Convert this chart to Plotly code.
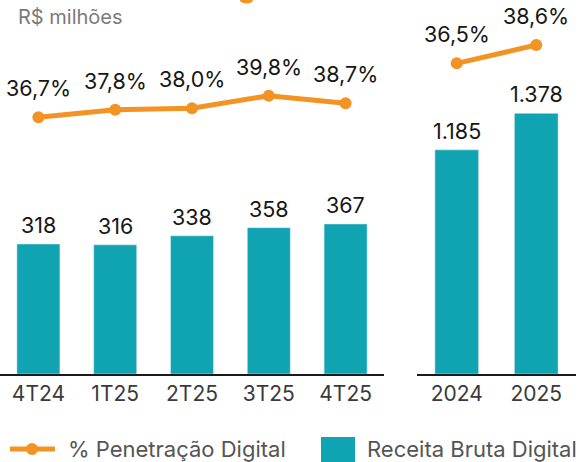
import plotly.graph_objects as go

# ---- data ----
quarters = ["4T24", "1T25", "2T25", "3T25", "4T25"]
quarter_revenue = [318, 316, 338, 358, 367]
quarter_penetration = [36.7, 37.8, 38.0, 39.8, 38.7]

years = ["2024", "2025"]
year_revenue = [1185, 1378]
year_penetration = [36.5, 38.6]

unit_label = "R$ milhões"
line_name = "% Penetração Digital"
bar_name = "Receita Bruta Digital"

ORANGE = "#F39324"
TEAL = "#10A4B2"
FONT = "Inter, Lato, sans-serif"
W, H = 584, 462


def fmt_pct(v):
    return f"{v:.1f}".replace(".", ",") + "%"


def fmt_int(v):
    return f"{v:,}".replace(",", ".")


fig = go.Figure()

fig.add_trace(go.Bar(x=quarters, y=quarter_revenue, marker_color=TEAL, width=0.56,
                     xaxis="x", yaxis="y", showlegend=False, hoverinfo="skip"))
fig.add_trace(go.Scatter(x=quarters, y=quarter_penetration, mode="lines+markers",
                         line=dict(color=ORANGE, width=5), marker=dict(size=12, color=ORANGE),
                         xaxis="x", yaxis="y2", showlegend=False, hoverinfo="skip"))
fig.add_trace(go.Bar(x=years, y=year_revenue, marker_color=TEAL, width=0.55,
                     xaxis="x2", yaxis="y3", showlegend=False, hoverinfo="skip"))
fig.add_trace(go.Scatter(x=years, y=year_penetration, mode="lines+markers",
                         line=dict(color=ORANGE, width=5), marker=dict(size=12, color=ORANGE),
                         xaxis="x2", yaxis="y4", showlegend=False, hoverinfo="skip"))

annotations = []
label_font = dict(family=FONT, size=21.5, color="#161616")
for i, v in enumerate(quarter_revenue):
    annotations.append(dict(x=i, y=v, xref="x", yref="y", text=fmt_int(v), showarrow=False,
                            yanchor="middle", yshift=19, font=label_font))
for i, v in enumerate(quarter_penetration):
    annotations.append(dict(x=i, y=v, xref="x", yref="y2", text=fmt_pct(v), showarrow=False,
                            yanchor="middle", yshift=29, font=label_font))
for i, v in enumerate(year_revenue):
    annotations.append(dict(x=i, y=v, xref="x2", yref="y3", text=fmt_int(v), showarrow=False,
                            yanchor="middle", yshift=19, font=label_font))
for i, v in enumerate(year_penetration):
    annotations.append(dict(x=i, y=v, xref="x2", yref="y4", text=fmt_pct(v), showarrow=False,
                            yanchor="middle", yshift=29, font=label_font))

# unit label
annotations.append(dict(x=16 / W, y=1 - 17 / H, xref="paper", yref="paper", text=unit_label,
                        showarrow=False, xanchor="left", yanchor="middle",
                        font=dict(family=FONT, size=20, color="#7a7a7a")))

# manual legend
leg_y = 1 - 449 / H
legend_font = dict(family=FONT, size=22, color="#555555")
annotations.append(dict(x=66 / W, y=leg_y, xref="paper", yref="paper", text=line_name,
                        showarrow=False, xanchor="left", yanchor="middle", font=legend_font))
annotations.append(dict(x=365 / W, y=leg_y, xref="paper", yref="paper", text=bar_name,
                        showarrow=False, xanchor="left", yanchor="middle", font=legend_font))

shapes = [
    dict(type="line", xref="paper", yref="paper", x0=10 / W, x1=55 / W, y0=leg_y, y1=leg_y,
         line=dict(color=ORANGE, width=5)),
    dict(type="circle", xref="paper", yref="paper", x0=26 / W, x1=38 / W,
         y0=leg_y - 6 / H, y1=leg_y + 6 / H, fillcolor=ORANGE, line=dict(width=0)),
    dict(type="rect", xref="paper", yref="paper", x0=321 / W, x1=355 / W,
         y0=1 - 471 / H, y1=1 - 437 / H, fillcolor=TEAL, line=dict(width=0)),
    # partially visible marker at the top edge
    dict(type="circle", xref="paper", yref="paper", x0=240 / W, x1=253 / W,
         y0=1 + 3 / H, y1=1 - 3.5 / H, fillcolor=ORANGE, line=dict(width=0)),
]

base = 1 - 374 / H
tickfont = dict(family=FONT, size=21, color="#3a3a3a")
fig.update_layout(
    width=W, height=H,
    margin=dict(l=0, r=0, t=0, b=0),
    paper_bgcolor="white", plot_bgcolor="white",
    showlegend=False,
    xaxis=dict(domain=[0, 384 / W], range=[-0.5, 4.5], type="category", showline=True,
               linecolor="#1a1a1a", linewidth=2, showgrid=False, zeroline=False, ticks="",
               tickfont=tickfont, fixedrange=True),
    yaxis=dict(domain=[base, 1], range=[0, 915], visible=False, fixedrange=True),
    yaxis2=dict(overlaying="y", anchor="x", range=[-0.13, 53.53], visible=False, fixedrange=True),
    xaxis2=dict(domain=[417 / W, 576 / W], range=[-0.5, 1.5], type="category", anchor="y3",
                showline=True, linecolor="#1a1a1a", linewidth=2, showgrid=False, zeroline=False,
                ticks="", tickfont=tickfont, fixedrange=True),
    yaxis3=dict(domain=[base, 1], anchor="x2", range=[0, 1977], visible=False, fixedrange=True),
    yaxis4=dict(overlaying="y3", anchor="x2", range=[0.83, 43.77], visible=False, fixedrange=True),
    annotations=annotations,
    shapes=shapes,
)

fig.write_html("out.html", config={"displayModeBar": False},
               post_script="document.body.style.margin='0px';")
